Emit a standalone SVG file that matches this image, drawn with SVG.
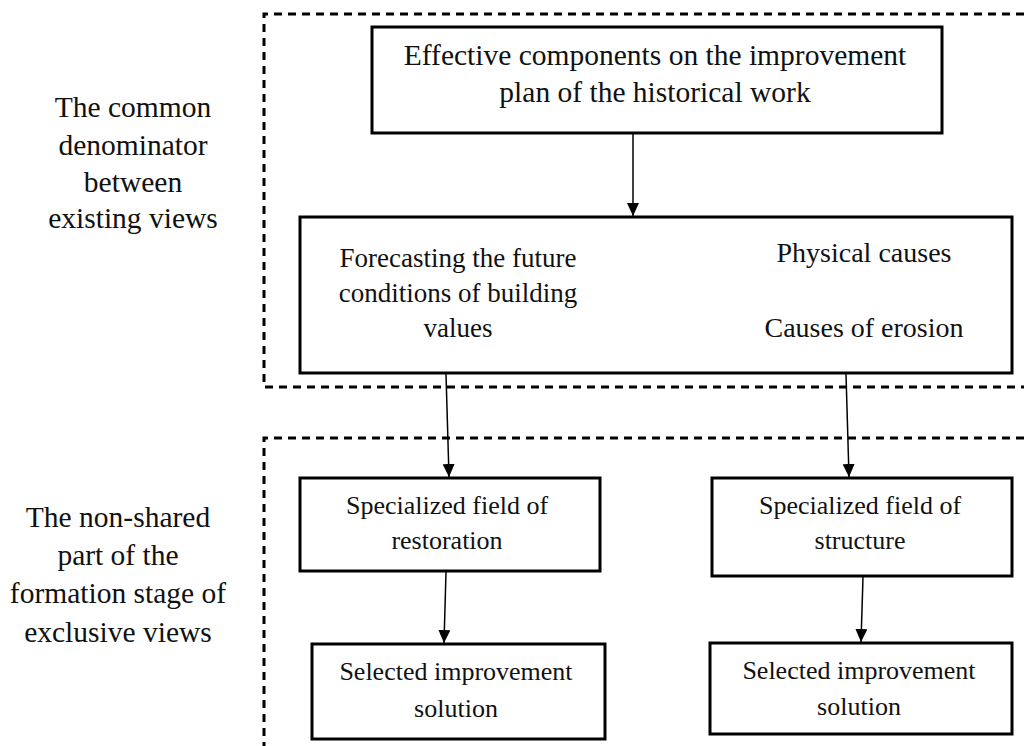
<svg xmlns="http://www.w3.org/2000/svg" width="1024" height="746" viewBox="0 0 1024 746">
<defs>
<style>
.box{fill:#fff;stroke:#000;stroke-width:3}
.dash{fill:none;stroke:#000;stroke-width:3;stroke-dasharray:8 6}
.conn{fill:none;stroke:#000;stroke-width:1.5;marker-end:url(#arr)}
text{font-family:"Liberation Serif","Times New Roman",serif;fill:#111;text-anchor:middle}
.t29{font-size:29.5px}
.t28{font-size:28px}
.t27{font-size:27px}
.t26{font-size:26px}
</style>
<marker id="arr" markerUnits="userSpaceOnUse" markerWidth="13" markerHeight="12" refX="13" refY="6" orient="auto">
<path d="M0,0 L13,6 L0,12 z" fill="#000"/>
</marker>
</defs>
<rect width="1024" height="746" fill="#fff"/>
<g id="regions">
<path class="dash" d="M1024,14 H264 V387 H1024"/>
<path class="dash" d="M1024,438 H264 V746"/>
</g>
<g id="label-common">
<text class="t29" x="133" y="117">The common</text>
<text class="t29" x="133" y="155">denominator</text>
<text class="t29" x="133" y="192">between</text>
<text class="t29" x="133" y="228">existing views</text>
</g>
<g id="label-nonshared">
<text class="t29" x="118" y="527">The non-shared</text>
<text class="t29" x="118" y="565">part of the</text>
<text class="t29" x="118" y="603">formation stage of</text>
<text class="t29" x="118" y="642">exclusive views</text>
</g>
<g id="node-effective">
<rect class="box" x="372" y="27" width="570" height="106"/>
<text class="t29" x="655" y="65">Effective components on the improvement</text>
<text class="t29" x="655" y="102">plan of the historical work</text>
</g>
<g id="node-causes">
<rect class="box" x="300" y="217" width="712" height="156"/>
<text class="t27" x="458" y="267">Forecasting the future</text>
<text class="t27" x="458" y="302">conditions of building</text>
<text class="t27" x="458" y="337">values</text>
<text class="t28" x="864" y="262">Physical causes</text>
<text class="t28" x="864" y="337">Causes of erosion</text>
</g>
<g id="node-restoration">
<rect class="box" x="300" y="478" width="300" height="93"/>
<text class="t26" x="447" y="514">Specialized field of</text>
<text class="t26" x="447" y="549">restoration</text>
</g>
<g id="node-structure">
<rect class="box" x="712" y="478" width="300" height="98"/>
<text class="t26" x="860" y="514">Specialized field of</text>
<text class="t26" x="860" y="549">structure</text>
</g>
<g id="node-selected-1">
<rect class="box" x="312" y="644" width="293" height="95"/>
<text class="t26" x="456" y="680">Selected improvement</text>
<text class="t26" x="456" y="717">solution</text>
</g>
<g id="node-selected-2">
<rect class="box" x="710" y="643" width="302" height="91"/>
<text class="t26" x="859" y="679">Selected improvement</text>
<text class="t26" x="859" y="715">solution</text>
</g>
<g id="connectors">
<line class="conn" x1="633" y1="134" x2="633" y2="216"/>
<line class="conn" x1="446" y1="374" x2="449" y2="477"/>
<line class="conn" x1="846" y1="374" x2="849" y2="477"/>
<line class="conn" x1="446" y1="572" x2="444" y2="643"/>
<line class="conn" x1="863" y1="577" x2="861" y2="642"/>
</g>
</svg>
